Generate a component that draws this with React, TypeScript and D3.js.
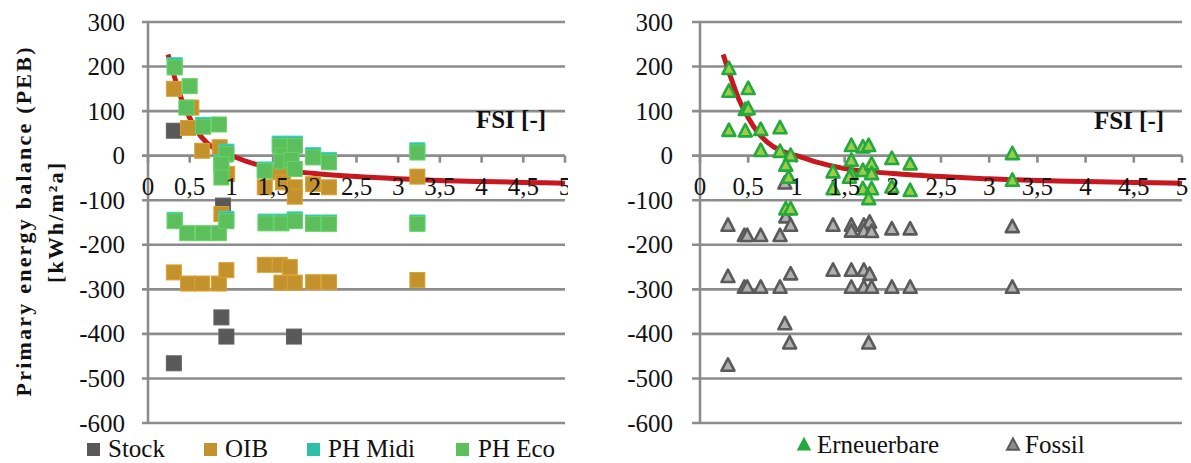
import React from "react";
import * as d3 from "d3";

// ---------- data ----------
const yTicks = [300, 200, 100, 0, -100, -200, -300, -400, -500, -600];
const xTicks = [0, 0.5, 1, 1.5, 2, 2.5, 3, 3.5, 4, 4.5, 5];

// left chart (scenarios) [FSI, PEB]
const stock: [number, number][] = [
  [0.31, 56], [0.31, -466], [0.9, -112], [0.88, -363], [0.94, -406], [1.75, -406],
];
const oib: [number, number][] = [
  [0.31, 150], [0.52, 108], [0.48, 62], [0.65, 11], [0.86, 19], [0.95, -41], [0.88, -131],
  [1.4, -71], [1.58, -37], [1.62, -60], [1.76, -71], [1.76, -92], [1.98, -64], [2.17, -71], [3.23, -47],
  [0.31, -262], [0.48, -287], [0.65, -287], [0.85, -287], [0.94, -257], [1.4, -245], [1.58, -245],
  [1.7, -250], [1.6, -285], [1.76, -285], [1.98, -284], [2.17, -284], [3.23, -279],
];
const phMidi: [number, number][] = [
  [0.32, 203], [0.66, 69], [0.94, 9], [0.88, -15], [1.58, 27], [1.76, 27], [1.72, -5], [1.98, 1],
  [2.17, -10], [3.23, 12], [1.4, -31], [0.32, -144], [0.94, -142], [1.41, -148], [1.6, -148],
  [1.76, -143], [1.98, -150], [2.17, -150], [3.23, -150],
];
const phEco: [number, number][] = [
  [0.32, 198], [0.5, 156], [0.46, 108], [0.66, 65], [0.85, 70], [0.94, 4], [0.88, -19], [0.88, -49],
  [1.4, -34], [1.58, 22], [1.62, 0], [1.6, -13], [1.76, 22], [1.72, -10], [1.76, -30], [1.98, -4],
  [2.17, -15], [3.23, 7], [0.32, -147], [0.47, -174], [0.66, -174], [0.85, -174], [0.94, -147],
  [1.41, -152], [1.6, -152], [1.76, -147], [1.98, -153], [2.17, -153], [3.23, -153],
];

// right chart [FSI, PEB]
const erneuerbare: [number, number][] = [
  [0.3, 195], [0.3, 144], [0.3, 56], [0.5, 150], [0.47, 103], [0.5, 105], [0.47, 55], [0.63, 58],
  [0.63, 11], [0.83, 62], [0.83, 9], [0.94, 0], [0.89, -22], [0.92, -49], [0.89, -120], [0.94, -120],
  [1.38, -37], [1.38, -75], [1.57, 22], [1.57, -11], [1.57, -41], [1.55, -49], [1.69, 19], [1.75, 22],
  [1.69, -34], [1.78, -19], [1.78, -41], [1.69, -75], [1.78, -75], [1.75, -97], [1.99, -7],
  [1.99, -71], [2.18, -19], [2.18, -79], [3.24, 4], [3.24, -56],
];
const fossil: [number, number][] = [
  [0.29, -157], [0.46, -180], [0.49, -180], [0.63, -180], [0.83, -180], [0.89, -138], [0.94, -157],
  [0.88, -62], [1.38, -157], [1.57, -157], [1.57, -170], [1.7, -157], [1.76, -150], [1.7, -170],
  [1.78, -171], [1.99, -165], [2.18, -165], [3.24, -160],
  [0.29, -272], [0.46, -296], [0.49, -296], [0.63, -296], [0.83, -296], [0.94, -266], [1.38, -258],
  [1.57, -258], [1.7, -258], [1.76, -267], [1.57, -296], [1.7, -296], [1.78, -296], [1.99, -296],
  [2.18, -296], [3.24, -296],
  [0.88, -378], [0.93, -421], [1.75, -421], [0.29, -471],
];

// trend line
const trend: [number, number][] = [
  [0.24, 227], [0.3, 188], [0.4, 128], [0.5, 85], [0.6, 52], [0.7, 30], [0.83, 12], [1.0, 0],
  [1.2, -14], [1.5, -29], [2.0, -40], [2.5, -47], [3.0, -52], [3.5, -56], [4.0, -58], [4.5, -60], [5.0, -62],
];

const leftLegend = ["Stock", "OIB", "PH Midi", "PH Eco"];
const rightLegend = ["Erneuerbare", "Fossil"];

// ---------- styles ----------
const GRID = "#8c8c8c";
const RED = "#c8181f";
const FONT = "Liberation Serif";
const colStock = "#595959";
const colOIB = "#c4922c";
const colMidi = "#2dbfa8";
const colEco = "#5cbf5c";

const y = d3.scaleLinear().domain([-600, 300]).range([423, 22]);
const xL = d3.scaleLinear().domain([0, 5]).range([148, 565]);
const xR = d3.scaleLinear().domain([0, 5]).range([700, 1182]);

const fmt = (v: number) => String(v).replace(".", ",");

function Axes({ x, labelEnd, gridLeft }: { x: d3.ScaleLinear<number, number>; labelEnd: number; gridLeft: number }) {
  const [x0, x1] = x.range();
  return (
    <g>
      {yTicks.map((t) => (
        <g key={t}>
          <line x1={gridLeft} x2={x1} y1={y(t)} y2={y(t)} stroke={GRID} strokeWidth={2.6} />
          <text x={labelEnd} y={y(t) + 8.5} textAnchor="end" fontSize={25} fontFamily={FONT} fill="#111">
            {t}
          </text>
        </g>
      ))}
      <line x1={x0} x2={x0} y1={y(300)} y2={y(-600)} stroke={GRID} strokeWidth={2.6} />
      {xTicks.map((t) => (
        <line key={t} x1={x(t)} x2={x(t)} y1={y(0)} y2={y(0) + 7} stroke={GRID} strokeWidth={2.6} />
      ))}
    </g>
  );
}

function XLabels({ x }: { x: d3.ScaleLinear<number, number> }) {
  return (
    <g>
      {xTicks.map((t) => (
        <text key={t} x={x(t)} y={195} textAnchor="middle" fontSize={25} fontFamily={FONT} fill="#111">
          {fmt(t)}
        </text>
      ))}
    </g>
  );
}

const tri = (cx: number, cy: number, s: number) =>
  `M${cx},${cy - s * 0.55} L${cx + s / 2},${cy + s * 0.4} L${cx - s / 2},${cy + s * 0.4} Z`;

export default function App() {
  const lineL = d3.line<[number, number]>().x((d) => xL(d[0])).y((d) => y(d[1])).curve(d3.curveMonotoneX);
  const lineR = d3.line<[number, number]>().x((d) => xR(d[0])).y((d) => y(d[1])).curve(d3.curveMonotoneX);
  const sq = 15;
  const squares = (data: [number, number][], color: string, key: string) =>
    data.map((d, i) => (
      <rect key={key + i} x={xL(d[0]) - sq / 2} y={y(d[1]) - sq / 2} width={sq} height={sq} fill={color}
        stroke={d3.color(color)!.brighter(0.3).toString()} strokeWidth={1} />
    ));
  const legendL = [
    { x: 87, c: colStock, t: leftLegend[0] },
    { x: 204, c: colOIB, t: leftLegend[1] },
    { x: 307, c: colMidi, t: leftLegend[2] },
    { x: 456, c: colEco, t: leftLegend[3] },
  ];
  return (
    <svg width={1191} height={463} fontFamily={FONT}
      style={{ position: "absolute", left: 0, top: 0, background: "#fff", fontFamily: FONT }}>
      <defs>
        <clipPath id="leftClip">
          <rect x={0} y={0} width={568} height={463} />
        </clipPath>
      </defs>
      {/* LEFT CHART */}
      <g clipPath="url(#leftClip)">
        <Axes x={xL} labelEnd={125} gridLeft={142} />
        <path d={lineL(trend) || ""} fill="none" stroke={RED} strokeWidth={5} />
        {squares(stock, colStock, "s")}
        {squares(oib, colOIB, "o")}
        {squares(phMidi, colMidi, "m")}
        {squares(phEco, colEco, "e")}
        <XLabels x={xL} />
        <text x={511} y={128} textAnchor="middle" fontSize={25} fontWeight="bold" fontFamily={FONT} fill="#111">
          FSI [-]
        </text>
        <text transform="translate(31,222) rotate(-90)" textAnchor="middle" fontSize={22} fontWeight="bold"
          fontFamily={FONT} fill="#111" textLength={349} lengthAdjust="spacing">
          Primary energy balance (PEB)
        </text>
        <text transform="translate(63,223) rotate(-90)" textAnchor="middle" fontSize={22} fontWeight="bold"
          fontFamily={FONT} fill="#111" textLength={120} lengthAdjust="spacing">
          [kWh/m²a]
        </text>
        {legendL.map((l) => (
          <g key={l.t}>
            <rect x={l.x} y={443} width={13} height={13} fill={l.c} />
            <text x={l.x + (l.t === "PH Eco" ? 22 : 21)} y={457} fontSize={25} fontFamily={FONT} fill="#111">
              {l.t}
            </text>
          </g>
        ))}
      </g>

      {/* RIGHT CHART */}
      <g>
        <Axes x={xR} labelEnd={673} gridLeft={692} />
        <path d={lineR(trend) || ""} fill="none" stroke={RED} strokeWidth={5} />
        {fossil.map((d, i) => (
          <path key={"f" + i} d={tri(xR(d[0]), y(d[1]), 13)} fill="#b0b0b0" stroke="#5a5a5a" strokeWidth={2.6}
            strokeLinejoin="round" />
        ))}
        {erneuerbare.map((d, i) => (
          <path key={"r" + i} d={tri(xR(d[0]), y(d[1]), 13)} fill="#9ccc4a" stroke="#22aa3c" strokeWidth={2.6}
            strokeLinejoin="round" />
        ))}
        <XLabels x={xR} />
        <text x={1129} y={129} textAnchor="middle" fontSize={25} fontWeight="bold" fontFamily={FONT} fill="#111">
          FSI [-]
        </text>
        <path d={tri(804, 445, 12)} fill="#22aa3c" stroke="#22aa3c" strokeWidth={1.5} />
        <text x={817} y={453} fontSize={25} fontFamily={FONT} fill="#111">
          {rightLegend[0]}
        </text>
        <path d={tri(1013, 445, 12)} fill="#8c8c8c" stroke="#5a5a5a" strokeWidth={2} />
        <text x={1025} y={453} fontSize={25} fontFamily={FONT} fill="#111">
          {rightLegend[1]}
        </text>
      </g>
    </svg>
  );
}
